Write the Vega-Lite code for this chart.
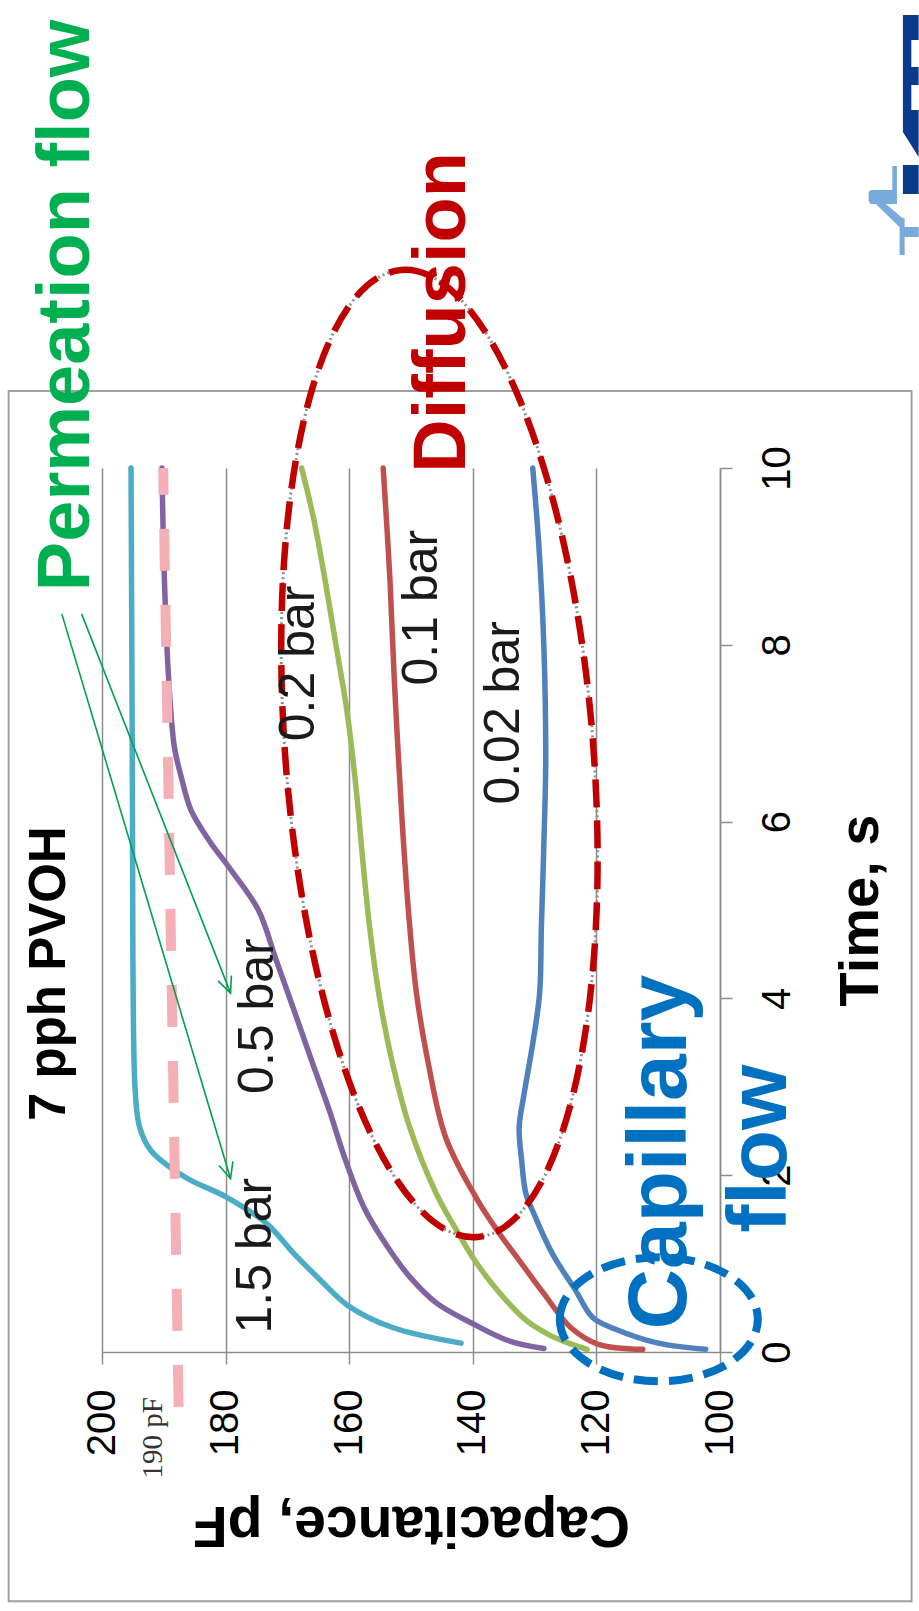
{
  "$schema": "https://vega.github.io/schema/vega-lite/v6.json",
  "width": 618,
  "height": 884,
  "autosize": {"type": "none"},
  "padding": {"left": 102, "top": 468, "right": 199, "bottom": 259},
  "background": "white",
  "config": {"view": {"stroke": null}, "font": "Liberation Sans"},
  "datasets": {
    "frame": [{"c": 215.1, "c2": 69.0, "t": 10.87, "t2": -2.82}],
    "curves": [
      {"s": "1.5 bar", "t": 0.10, "c": 141.9},
      {"s": "1.5 bar", "t": 0.28, "c": 153.1},
      {"s": "1.5 bar", "t": 0.53, "c": 160.3},
      {"s": "1.5 bar", "t": 0.81, "c": 164.6},
      {"s": "1.5 bar", "t": 1.11, "c": 168.9},
      {"s": "1.5 bar", "t": 1.45, "c": 173.3},
      {"s": "1.5 bar", "t": 1.75, "c": 179.8},
      {"s": "1.5 bar", "t": 1.98, "c": 186.6},
      {"s": "1.5 bar", "t": 2.28, "c": 192.1},
      {"s": "1.5 bar", "t": 2.54, "c": 193.9},
      {"s": "1.5 bar", "t": 2.92, "c": 194.6},
      {"s": "1.5 bar", "t": 4.43, "c": 195.0},
      {"s": "1.5 bar", "t": 6.70, "c": 195.1},
      {"s": "1.5 bar", "t": 10.0, "c": 195.3},
      {"s": "0.5 bar", "t": 0.04, "c": 128.5},
      {"s": "0.5 bar", "t": 0.13, "c": 134.3},
      {"s": "0.5 bar", "t": 0.32, "c": 140.0},
      {"s": "0.5 bar", "t": 0.55, "c": 145.8},
      {"s": "0.5 bar", "t": 0.85, "c": 150.2},
      {"s": "0.5 bar", "t": 1.19, "c": 153.8},
      {"s": "0.5 bar", "t": 1.62, "c": 157.5},
      {"s": "0.5 bar", "t": 2.17, "c": 160.6},
      {"s": "0.5 bar", "t": 2.73, "c": 163.2},
      {"s": "0.5 bar", "t": 3.30, "c": 166.1},
      {"s": "0.5 bar", "t": 3.86, "c": 168.9},
      {"s": "0.5 bar", "t": 4.43, "c": 171.8},
      {"s": "0.5 bar", "t": 5.00, "c": 174.7},
      {"s": "0.5 bar", "t": 5.45, "c": 179.1},
      {"s": "0.5 bar", "t": 5.79, "c": 182.7},
      {"s": "0.5 bar", "t": 6.13, "c": 185.6},
      {"s": "0.5 bar", "t": 6.51, "c": 187.2},
      {"s": "0.5 bar", "t": 6.85, "c": 188.3},
      {"s": "0.5 bar", "t": 7.60, "c": 189.2},
      {"s": "0.5 bar", "t": 8.73, "c": 189.9},
      {"s": "0.5 bar", "t": 10.0, "c": 190.3},
      {"s": "0.2 bar", "t": 0.03, "c": 121.5},
      {"s": "0.2 bar", "t": 0.10, "c": 124.5},
      {"s": "0.2 bar", "t": 0.20, "c": 127.8},
      {"s": "0.2 bar", "t": 0.36, "c": 131.4},
      {"s": "0.2 bar", "t": 0.73, "c": 136.4},
      {"s": "0.2 bar", "t": 1.07, "c": 140.0},
      {"s": "0.2 bar", "t": 1.41, "c": 142.9},
      {"s": "0.2 bar", "t": 1.79, "c": 145.9},
      {"s": "0.2 bar", "t": 2.54, "c": 150.2},
      {"s": "0.2 bar", "t": 3.30, "c": 153.1},
      {"s": "0.2 bar", "t": 4.05, "c": 155.2},
      {"s": "0.2 bar", "t": 4.81, "c": 156.7},
      {"s": "0.2 bar", "t": 5.56, "c": 157.8},
      {"s": "0.2 bar", "t": 6.32, "c": 158.8},
      {"s": "0.2 bar", "t": 7.22, "c": 160.3},
      {"s": "0.2 bar", "t": 7.98, "c": 162.1},
      {"s": "0.2 bar", "t": 8.73, "c": 163.9},
      {"s": "0.2 bar", "t": 9.41, "c": 165.7},
      {"s": "0.2 bar", "t": 10.0, "c": 167.7},
      {"s": "0.1 bar", "t": 0.03, "c": 112.5},
      {"s": "0.1 bar", "t": 0.09, "c": 119.8},
      {"s": "0.1 bar", "t": 0.28, "c": 124.2},
      {"s": "0.1 bar", "t": 0.66, "c": 128.5},
      {"s": "0.1 bar", "t": 1.00, "c": 132.1},
      {"s": "0.1 bar", "t": 1.34, "c": 135.7},
      {"s": "0.1 bar", "t": 1.75, "c": 139.5},
      {"s": "0.1 bar", "t": 2.43, "c": 144.4},
      {"s": "0.1 bar", "t": 3.30, "c": 147.3},
      {"s": "0.1 bar", "t": 4.05, "c": 149.1},
      {"s": "0.1 bar", "t": 4.81, "c": 150.2},
      {"s": "0.1 bar", "t": 5.75, "c": 151.2},
      {"s": "0.1 bar", "t": 6.69, "c": 152.0},
      {"s": "0.1 bar", "t": 7.60, "c": 152.7},
      {"s": "0.1 bar", "t": 8.73, "c": 153.4},
      {"s": "0.1 bar", "t": 10.0, "c": 154.5},
      {"s": "0.02 bar", "t": 0.03, "c": 102.3},
      {"s": "0.02 bar", "t": 0.10, "c": 110.0},
      {"s": "0.02 bar", "t": 0.26, "c": 117.0},
      {"s": "0.02 bar", "t": 0.39, "c": 120.6},
      {"s": "0.02 bar", "t": 0.70, "c": 123.4},
      {"s": "0.02 bar", "t": 1.11, "c": 127.1},
      {"s": "0.02 bar", "t": 1.53, "c": 129.9},
      {"s": "0.02 bar", "t": 1.79, "c": 131.4},
      {"s": "0.02 bar", "t": 2.17, "c": 132.1},
      {"s": "0.02 bar", "t": 2.54, "c": 132.5},
      {"s": "0.02 bar", "t": 2.92, "c": 131.7},
      {"s": "0.02 bar", "t": 3.49, "c": 130.3},
      {"s": "0.02 bar", "t": 4.05, "c": 129.2},
      {"s": "0.02 bar", "t": 4.81, "c": 128.9},
      {"s": "0.02 bar", "t": 5.75, "c": 128.5},
      {"s": "0.02 bar", "t": 6.69, "c": 128.2},
      {"s": "0.02 bar", "t": 7.98, "c": 128.5},
      {"s": "0.02 bar", "t": 9.11, "c": 129.3},
      {"s": "0.02 bar", "t": 10.0, "c": 130.3}
    ],
    "ref190": [
      {"c": 187.6, "t": -0.62},
      {"c": 190.1, "t": 10.0}
    ],
    "zones": [
      {"zone": "Diffusion", "c": 145.4, "t": 6.77},
      {"zone": "Capillary", "c": 109.9, "t": 0.37}
    ],
    "arrows": [
      {"arrow": "A", "part": "tail", "c": 206.5, "t": 8.35},
      {"arrow": "A", "part": "head", "c": 179.2, "t": 1.96},
      {"arrow": "B", "part": "tail", "c": 203.3, "t": 8.35},
      {"arrow": "B", "part": "head", "c": 179.2, "t": 4.06}
    ],
    "notes": [
      {"role": "series", "label": "1.5 bar", "c": 175.1, "t": 1.09},
      {"role": "series", "label": "0.5 bar", "c": 174.7, "t": 3.80},
      {"role": "series", "label": "0.2 bar", "c": 168.2, "t": 7.79},
      {"role": "series", "label": "0.1 bar", "c": 148.3, "t": 8.42},
      {"role": "series", "label": "0.02 bar", "c": 134.9, "t": 7.23},
      {"role": "ref", "label": "190 pF", "c": 191.7, "t": -0.97},
      {"role": "title", "label": "7 pph PVOH", "c": 208.4, "t": 4.28},
      {"role": "permeation", "label": "Permeation flow", "c": 205.6, "t": 11.84},
      {"role": "diffusion", "label": "Diffusion", "c": 144.9, "t": 11.76},
      {"role": "capillary", "label": "Capillary", "c": 109.6, "t": 2.26},
      {"role": "capillary", "label": "flow", "c": 93.3, "t": 2.30}
    ],
    "logo": [{"c": 67.86, "t": 15.295}]
  },
  "encoding": {
    "x": {
      "field": "c",
      "type": "quantitative",
      "scale": {"domain": [100, 200], "reverse": true, "nice": false, "zero": false},
      "axis": {
        "orient": "bottom",
        "values": [100, 120, 140, 160, 180, 200],
        "title": "Capacitance, pF",
        "grid": true,
        "gridColor": "#8c8c8c",
        "gridWidth": 1.5,
        "domainColor": "#8c8c8c",
        "domainWidth": 1.5,
        "tickColor": "#8c8c8c",
        "tickWidth": 1.5,
        "tickSize": 12,
        "labelAngle": 270,
        "labelAlign": "right",
        "labelBaseline": "middle",
        "labelFont": "Liberation Sans",
        "labelFontSize": 40,
        "labelColor": "#000000",
        "labelPadding": 25,
        "labelFlush": false,
        "labelOverlap": false,
        "labelBound": false,
        "titleFont": "Liberation Sans",
        "titleFontSize": 57,
        "titleFontWeight": "bold",
        "titleColor": "#000000",
        "titleAngle": 180,
        "titleBaseline": "bottom",
        "titleAlign": "center",
        "titlePadding": 39
      }
    },
    "y": {
      "field": "t",
      "type": "quantitative",
      "scale": {"domain": [0, 10], "nice": false, "zero": false},
      "axis": {
        "orient": "right",
        "values": [0, 2, 4, 6, 8, 10],
        "title": "Time, s",
        "grid": false,
        "domainColor": "#8c8c8c",
        "domainWidth": 1.5,
        "tickColor": "#8c8c8c",
        "tickWidth": 1.5,
        "tickSize": 12,
        "labelAngle": 270,
        "labelAlign": "center",
        "labelBaseline": "top",
        "labelFont": "Liberation Sans",
        "labelFontSize": 40,
        "labelColor": "#000000",
        "labelPadding": 25,
        "labelFlush": false,
        "labelOverlap": false,
        "labelBound": false,
        "titleFont": "Liberation Sans",
        "titleFontSize": 56,
        "titleFontWeight": "bold",
        "titleColor": "#000000",
        "titleAngle": 270,
        "titleBaseline": "top",
        "titleAlign": "center",
        "titlePadding": 36
      }
    }
  },
  "layer": [
    {
      "data": {"name": "frame"},
      "mark": {"type": "rect", "fill": "#ffffff", "fillOpacity": 0, "stroke": "#a0a0a0", "strokeWidth": 2},
      "encoding": {"x2": {"field": "c2"}, "y2": {"field": "t2"}}
    },
    {
      "data": {"name": "curves"},
      "mark": {"type": "line", "strokeWidth": 5.5, "strokeCap": "round", "strokeJoin": "round", "interpolate": "catmull-rom"},
      "encoding": {
        "color": {
          "field": "s",
          "type": "nominal",
          "scale": {
            "domain": ["1.5 bar", "0.5 bar", "0.2 bar", "0.1 bar", "0.02 bar"],
            "range": ["#4bacc6", "#8064a2", "#9bbb59", "#c0504d", "#4f81bd"]
          },
          "legend": null
        },
        "order": {"field": "t", "type": "quantitative"}
      }
    },
    {
      "data": {"name": "ref190"},
      "mark": {"type": "line", "color": "#f5b0b7", "strokeWidth": 10, "strokeDash": [42, 34], "strokeCap": "butt"},
      "encoding": {"order": {"field": "t", "type": "quantitative"}}
    },
    {
      "data": {"name": "zones"},
      "transform": [{"filter": "datum.zone === 'Diffusion'"}],
      "mark": {
        "type": "point",
        "shape": "M0,-1C0.1754,-1,0.3175,-0.5523,0.3175,0C0.3175,0.5523,0.1754,1,0,1C-0.1754,1,-0.3175,0.5523,-0.3175,0C-0.3175,-0.5523,-0.1754,-1,0,-1Z",
        "size": 940900,
        "angle": 355.5,
        "filled": false,
        "opacity": 1,
        "color": "#8f8f8f",
        "strokeWidth": 3,
        "strokeDash": [2, 3]
      }
    },
    {
      "data": {"name": "zones"},
      "transform": [{"filter": "datum.zone === 'Diffusion'"}],
      "mark": {
        "type": "point",
        "shape": "M0,-1C0.1754,-1,0.3175,-0.5523,0.3175,0C0.3175,0.5523,0.1754,1,0,1C-0.1754,1,-0.3175,0.5523,-0.3175,0C-0.3175,-0.5523,-0.1754,-1,0,-1Z",
        "size": 940900,
        "angle": 355.5,
        "filled": false,
        "opacity": 1,
        "color": "#c00000",
        "strokeWidth": 6.5,
        "strokeDash": [28, 13]
      }
    },
    {
      "data": {"name": "zones"},
      "transform": [{"filter": "datum.zone === 'Capillary'"}],
      "mark": {
        "type": "point",
        "shape": "M-1,0C-1,-0.3457,-0.5523,-0.626,0,-0.626C0.5523,-0.626,1,-0.3457,1,0C1,0.3457,0.5523,0.626,0,0.626C-0.5523,0.626,-1,0.3457,-1,0Z",
        "size": 39204,
        "filled": false,
        "opacity": 1,
        "color": "#0070c0",
        "strokeWidth": 8,
        "strokeDash": [24, 11]
      }
    },
    {
      "data": {"name": "arrows"},
      "mark": {"type": "line", "color": "#00a050", "strokeWidth": 1.6},
      "encoding": {
        "detail": {"field": "arrow", "type": "nominal"},
        "order": {"field": "t", "type": "quantitative"}
      }
    },
    {
      "data": {"name": "arrows"},
      "transform": [{"filter": "datum.arrow === 'A' && datum.part === 'head'"}],
      "mark": {"type": "point", "shape": "M-0.45,-1L0,0L0.45,-1", "size": 1024, "angle": 343.3, "filled": false, "opacity": 1, "color": "#00a050", "strokeWidth": 1.6}
    },
    {
      "data": {"name": "arrows"},
      "transform": [{"filter": "datum.arrow === 'B' && datum.part === 'head'"}],
      "mark": {"type": "point", "shape": "M-0.45,-1L0,0L0.45,-1", "size": 1024, "angle": 338.5, "filled": false, "opacity": 1, "color": "#00a050", "strokeWidth": 1.6}
    },
    {
      "data": {"name": "notes"},
      "transform": [{"filter": "datum.role === 'series'"}],
      "mark": {"type": "text", "angle": 270, "align": "center", "baseline": "middle", "font": "Liberation Sans", "fontSize": 50, "color": "#1a1a1a"},
      "encoding": {"text": {"field": "label"}}
    },
    {
      "data": {"name": "notes"},
      "transform": [{"filter": "datum.role === 'ref'"}],
      "mark": {"type": "text", "angle": 270, "align": "center", "baseline": "middle", "font": "Liberation Serif", "fontSize": 29, "color": "#333333"},
      "encoding": {"text": {"field": "label"}}
    },
    {
      "data": {"name": "notes"},
      "transform": [{"filter": "datum.role === 'title'"}],
      "mark": {"type": "text", "angle": 270, "align": "center", "baseline": "middle", "font": "Liberation Sans", "fontSize": 51, "fontWeight": "bold", "color": "#000000"},
      "encoding": {"text": {"field": "label"}}
    },
    {
      "data": {"name": "notes"},
      "transform": [{"filter": "datum.role === 'permeation'"}],
      "mark": {"type": "text", "angle": 270, "align": "center", "baseline": "middle", "font": "Liberation Sans", "fontSize": 74, "fontWeight": "bold", "color": "#00b050"},
      "encoding": {"text": {"field": "label"}}
    },
    {
      "data": {"name": "notes"},
      "transform": [{"filter": "datum.role === 'diffusion'"}],
      "mark": {"type": "text", "angle": 270, "align": "center", "baseline": "middle", "font": "Liberation Sans", "fontSize": 74, "fontWeight": "bold", "color": "#c00000"},
      "encoding": {"text": {"field": "label"}}
    },
    {
      "data": {"name": "notes"},
      "transform": [{"filter": "datum.role === 'capillary'"}],
      "mark": {"type": "text", "angle": 270, "align": "center", "baseline": "middle", "font": "Liberation Sans", "fontSize": 84, "fontWeight": "bold", "color": "#0070c0"},
      "encoding": {"text": {"field": "label"}}
    },
    {
      "data": {"name": "logo"},
      "mark": {
        "type": "point",
        "shape": "M-15.7,15L0,15L0,40L-7.3,40L-7.3,67L0,67L0,85L-7.3,85L-7.3,110L0,110L0,157L-15.7,132ZM-15.7,165L0,165L0,194L-15.7,194Z",
        "size": 4,
        "filled": true,
        "opacity": 1,
        "color": "#0a3a8c",
        "strokeWidth": 0
      }
    },
    {
      "data": {"name": "logo"},
      "mark": {
        "type": "point",
        "shape": "M-26.3,166L-21.7,166L-21.7,204L-48,204L-50,201L-50,192L-48,190L-26.3,190ZM-50,197L-41,197L-14,220L-14,232ZM-19,218L-14,218L-14,255L-19,255ZM-14,227L0,227L0,237L-14,237Z",
        "size": 4,
        "filled": true,
        "opacity": 1,
        "color": "#78aadb",
        "strokeWidth": 0
      }
    }
  ]
}
